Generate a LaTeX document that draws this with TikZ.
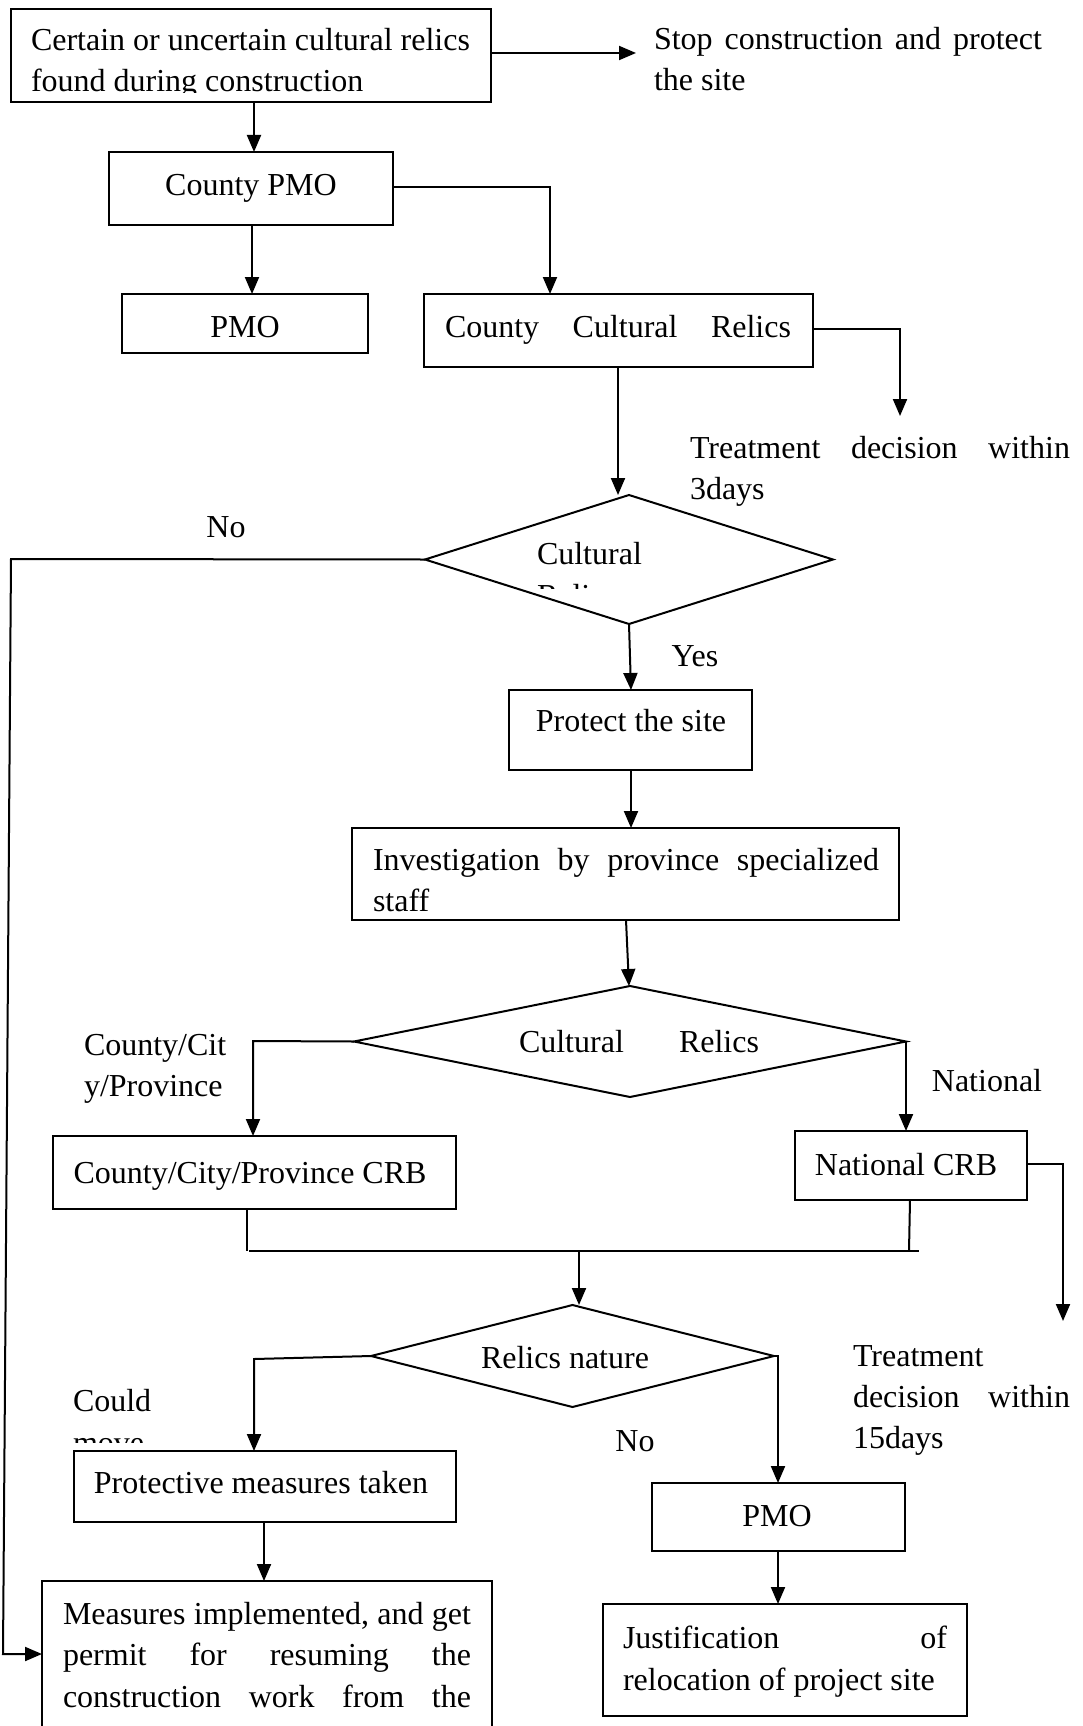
\documentclass[tikz,border=0pt]{standalone}
\usepackage{fontspec}
\setmainfont{Liberation Serif}
\usetikzlibrary{arrows.meta,shapes.geometric}
\begin{document}
\begin{tikzpicture}[x=1pt,y=-1pt,
  every node/.style={inner sep=0pt, outer sep=0pt, font=\fontsize{32}{42}\selectfont},
  box/.style={draw, line width=2pt, rectangle},
  dia/.style={draw, line width=2pt, diamond, aspect=1},
  conn/.style={line width=2pt},
  arr/.style={line width=2pt, -{Triangle[length=17pt,width=14pt]}},
  txt/.style={anchor=base west},
  ctxt/.style={anchor=base}]
\useasboundingbox (0,0) rectangle (1082,1726);
\fill[white] (0,0) rectangle (1082,1726);
\clip (0,0) rectangle (1082,1726);

% boxes
\node[box, minimum width=480pt, minimum height=93pt] (b1) at (251,55.5) {};
\node[box, minimum width=284pt, minimum height=73pt] (cpmo) at (251,188.5) {};
\node[box, minimum width=246pt, minimum height=59pt] (pmo1) at (245,323.5) {};
\node[box, minimum width=389pt, minimum height=73pt] (ccr) at (618.5,330.5) {};
\node[dia, minimum width=408pt, minimum height=129pt] (d1) at (629,559.5) {};
\node[box, minimum width=243pt, minimum height=80pt] (prot) at (630.5,730) {};
\node[box, minimum width=547pt, minimum height=92pt] (inv) at (625.5,874) {};
\node[dia, minimum width=552pt, minimum height=111pt] (d2) at (630,1041.5) {};
\node[box, minimum width=403pt, minimum height=73pt] (ccrb) at (254.5,1172.5) {};
\node[box, minimum width=232pt, minimum height=69pt] (ncrb) at (911,1165.5) {};
\node[dia, minimum width=403pt, minimum height=102pt] (d3) at (572.5,1356) {};
\node[box, minimum width=382pt, minimum height=71pt] (pmeas) at (265,1486.5) {};
\node[box, minimum width=450pt, minimum height=164pt] (meas) at (267,1663) {};
\node[box, minimum width=253pt, minimum height=68pt] (pmo2) at (778.5,1517) {};
\node[box, minimum width=364pt, minimum height=112pt] (just) at (785,1660) {};

% free-end coordinates
\coordinate (stopend) at (636,53);
\coordinate (treatA) at (900,416);
\coordinate (treatB) at (1063,1321);
\coordinate (mergeL) at (247,1251);
\coordinate (mergeR) at (909,1251);
\coordinate (mergeM) at (579,1251);

% texts
\begin{scope}
\clip (13,11) rectangle (489,93);
\node[txt] (t1a) at (31,51) {Certain or uncertain cultural relics};
\node[txt] (t1b) at (31,92) {found during construction};
\end{scope}
\node[txt] (stop1) at (654,50) {\makebox[388pt][s]{Stop construction and protect}};
\node[txt] (stop2) at (654,91) {the site};
\node[ctxt] (tcpmo) at (251,195) {County PMO};
\node[ctxt] (tpmo1) at (245,337) {PMO};
\node[txt] (tccr) at (445,337) {\makebox[346pt][s]{County Cultural Relics}};
\node[txt] (tr1a) at (690,458) {\makebox[380pt][s]{Treatment decision within}};
\node[txt] (tr1b) at (690,499) {3days};
\node[ctxt] (no1) at (226,537) {No};
\begin{scope}
\clip (425,495) rectangle (833,588);
\node[txt] (td1a) at (537,564) {Cultural};
\node[txt] (td1b) at (537,606) {Relics};
\end{scope}
\node[ctxt] (yes1) at (695,666) {Yes};
\node[ctxt] (tprot) at (631,731) {Protect the site};
\node[txt] (tinva) at (373,870) {\makebox[506pt][s]{Investigation by province specialized}};
\node[txt] (tinvb) at (373,911) {staff};
\node[txt] (td2) at (519,1052) {\makebox[240pt][s]{Cultural Relics}};
\node[txt] (lcca) at (84,1055) {County/Cit};
\node[txt] (lccb) at (84,1096) {y/Province};
\node[ctxt] (lnat) at (987,1091) {National};
\node[ctxt] (tccrb) at (250,1183) {County/City/Province CRB};
\node[ctxt] (tncrb) at (906,1175) {National CRB};
\node[txt] (tr2a) at (853,1366) {Treatment};
\node[txt] (tr2b) at (853,1407) {\makebox[217pt][s]{decision within}};
\node[txt] (tr2c) at (853,1448) {15days};
\node[ctxt] (td3) at (565,1368) {Relics nature};
\node[txt] (lcoulda) at (73,1411) {Could};
\begin{scope}
\clip (0,1420) rectangle (300,1442);
\node[txt] (lcouldb) at (73,1453) {move};
\end{scope}
\node[ctxt] (no2) at (635,1451) {No};
\node[ctxt] (tpmeas) at (261,1493) {Protective measures taken};
\node[txt] (tmeasa) at (63,1624) {\makebox[408pt][s]{Measures implemented, and get}};
\node[txt] (tmeasb) at (63,1665) {\makebox[408pt][s]{permit for resuming the}};
\node[txt] (tmeasc) at (63,1707) {\makebox[408pt][s]{construction work from the}};
\node[ctxt] (tpmo2) at (777,1526) {PMO};
\node[txt] (tjusta) at (623,1648) {\makebox[324pt][s]{Justification of}};
\node[txt] (tjustb) at (623,1690) {relocation of project site};

% connectors
\draw[arr] (b1.east |- 0,53) -- (stopend);
\draw[arr] (b1.south -| 254,0) -- (cpmo.north -| 254,0);
\draw[arr] (cpmo.south -| 252,0) -- (pmo1.north -| 252,0);
\draw[arr] (cpmo.east |- 0,187) -| (ccr.north -| 550,0);
\draw[arr] (ccr.east |- 0,329) -| (treatA);
\draw[arr] (ccr.south -| 618,0) -- (d1.north -| 618,0);
\draw[arr] (d1.west) -- (11,559) -- (3,1654) -- (meas.west |- 0,1654);
\draw[arr] (d1.south) -- (prot.north -| 631,0);
\draw[arr] (prot.south -| 631,0) -- (inv.north -| 631,0);
\draw[arr] (inv.south -| 626,0) -- (d2.north -| 629,0);
\draw[arr] (d2.west) -- (253,1041) -- (ccrb.north -| 253,0);
\draw[arr] (d2.east) -- (ncrb.north -| 906,0);
\draw[arr] (ncrb.east |- 0,1164) -| (treatB);
\draw[conn] (ccrb.south -| 247,0) -- (mergeL);
\draw[conn] (ncrb.south -| 910,0) -- (mergeR);
\draw[conn] (249,1251) -- (919,1251);
\draw[arr] (mergeM) -- (d3.north -| 579,0);
\draw[arr] (d3.west) -- (254,1359) -- (pmeas.north -| 254,0);
\draw[arr] (d3.east) -- (778,1356) -- (pmo2.north -| 778,0);
\draw[arr] (pmeas.south -| 264,0) -- (meas.north -| 264,0);
\draw[arr] (pmo2.south -| 778,0) -- (just.north -| 778,0);
\end{tikzpicture}
\end{document}
